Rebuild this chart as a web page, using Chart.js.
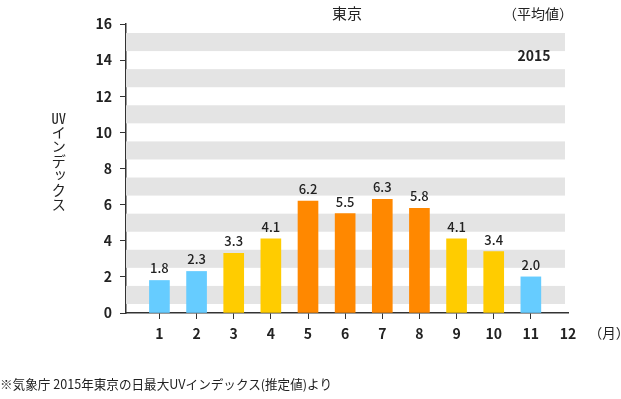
<!DOCTYPE html>
<html lang="ja">
<head>
<meta charset="utf-8">
<script src="https://cdn.jsdelivr.net/npm/chart.js@4"></script>
<style>
  body { margin: 0; background: #fff; }
  #wrap { position: relative; width: 621px; height: 399px; overflow: hidden;
          font-family: "Noto Sans CJK JP", "Noto Sans", sans-serif; color: #222; }
  #wrap div { position: absolute; white-space: nowrap; line-height: 1; }
  .c { transform: translate(-50%, -50%); }
</style>
</head>
<body>
<div id="wrap">
  <canvas id="chart-uv" width="621" height="399"></canvas>
  <div class="c" style="left:347px; top:12px; font-size:15px;">東京</div>
  <div class="c" style="left:538px; top:13px; font-size:14px;">（平均値）</div>
  <div class="c" style="left:534px; top:55px; font-size:14px; font-weight:bold;">2015</div>
  <div class="c" style="left:58px; top:161px; font-size:14.5px; writing-mode:vertical-rl;"><span style="text-combine-upright:all">UV</span>インデックス</div>
  <div class="c" style="left:609px; top:333px; font-size:13.5px;">（月）</div>
  <div style="left:0px; top:378px; font-size:12.6px;">※気象庁 2015年東京の日最大UVインデックス(推定値)より</div>
</div>
<script>
// 月ごとの平均値
const months = [1, 2, 3, 4, 5, 6, 7, 8, 9, 10, 11];
const uvValues = [1.8, 2.3, 3.3, 4.1, 6.2, 5.5, 6.3, 5.8, 4.1, 3.4, 2.0];
const monthTicks = [1, 2, 3, 4, 5, 6, 7, 8, 9, 10, 11, 12];

const blue = '#66ccff';
const yellow = '#ffcc00';
const orange = '#ff8800';
const barColors = [blue, blue, yellow, yellow, orange, orange, orange, orange, yellow, yellow, blue];

const font = "'Noto Sans CJK JP', 'Noto Sans', sans-serif";

// 背景の縞
const stripes = {
    id: 'stripes',
    beforeDatasetsDraw(chart) {
        const { ctx, chartArea, scales: { y } } = chart;
        ctx.save();
        ctx.fillStyle = '#e4e4e4';
        for (let v = 0; v < 16; v += 2) {
            const top = y.getPixelForValue(v + 1.5);
            const bottom = y.getPixelForValue(v + 0.5);
            ctx.fillRect(chartArea.left, top, chartArea.right - chartArea.left - 3, bottom - top);
        }
        ctx.restore();
    }
};

// 棒の上の数値
const valueLabels = {
    id: 'valueLabels',
    afterDatasetsDraw(chart) {
        const { ctx } = chart;
        const meta = chart.getDatasetMeta(0);
        ctx.save();
        ctx.font = '500 13px ' + font;
        ctx.fillStyle = '#222';
        ctx.textAlign = 'center';
        ctx.textBaseline = 'middle';
        meta.data.forEach((bar, i) => {
            ctx.fillText(uvValues[i].toFixed(1), bar.x, bar.y - 12);
        });
        ctx.restore();
    }
};

const ctx = document.getElementById('chart-uv').getContext('2d');
const chart = new Chart(ctx, {
    type: 'bar',
    data: {
        datasets: [{
            data: months.map((m, i) => ({ x: m, y: uvValues[i] })),
            backgroundColor: barColors,
            borderWidth: 0,
            barThickness: 20
        }]
    },
    options: {
        responsive: false,
        animation: false,
        layout: {
            padding: { left: 86, right: 53, top: 24, bottom: 56 }
        },
        scales: {
            x: {
                type: 'linear',
                offset: false,
                min: 0.1,
                max: 12,
                afterBuildTicks: scale => {
                    scale.ticks = monthTicks.map(v => ({ value: v }));
                },
                afterFit: scale => { scale.height = 30; },
                border: { color: '#333', width: 1.5 },
                grid: {
                    offset: false,
                    drawOnChartArea: false,
                    tickLength: 6,
                    tickColor: c => (c.tick && c.tick.value === 12) ? 'rgba(0,0,0,0)' : '#333'
                },
                ticks: {
                    padding: 6,
                    color: '#222',
                    font: { family: font, size: 14, weight: '600' },
                    callback: v => v
                }
            },
            y: {
                min: 0,
                max: 16,
                afterFit: scale => { scale.width = 40; },
                border: { color: '#333', width: 1.5 },
                grid: {
                    drawOnChartArea: false,
                    tickLength: 6,
                    tickColor: '#333'
                },
                ticks: {
                    stepSize: 1,
                    padding: 8,
                    color: '#222',
                    font: { family: font, size: 14, weight: '600' },
                    callback: v => (v % 2 === 0 ? v : '')
                }
            }
        },
        plugins: {
            legend: { display: false },
            tooltip: { enabled: false }
        }
    },
    plugins: [stripes, valueLabels]
});
</script>
</body>
</html>
